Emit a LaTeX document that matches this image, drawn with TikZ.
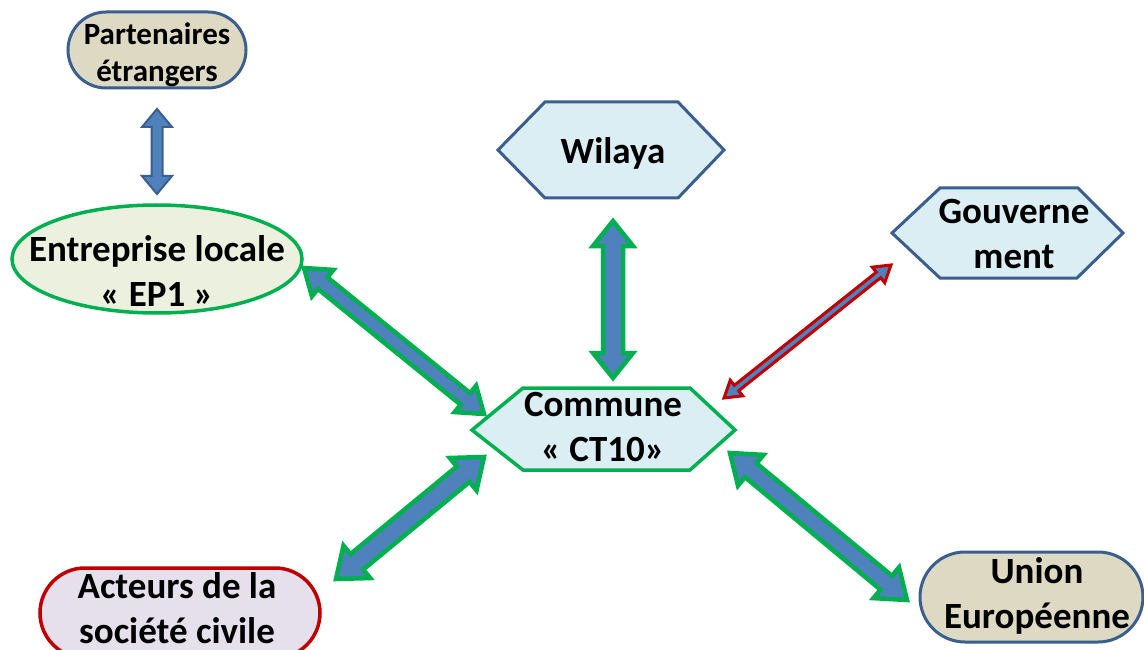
\documentclass[tikz,border=0pt]{standalone}
\usepackage{fontspec}
\setmainfont{Carlito}
\usetikzlibrary{calc}
\definecolor{bluebd}{HTML}{3A5F8F}
\definecolor{bluefill}{HTML}{4F81BD}
\definecolor{grn}{HTML}{00B050}
\definecolor{redbd}{HTML}{C00000}
\definecolor{tanfill}{HTML}{DDD9C3}
\definecolor{ltblue}{HTML}{DBEEF4}
\definecolor{ltgreen}{HTML}{EBF1DE}
\definecolor{ltpurple}{HTML}{E6E0EC}
\newcommand\dblarr[6]{%
  \coordinate (da1) at ($(#2)!#6!(#3)$);
  \coordinate (da2) at ($(#3)!#6!(#2)$);
  \draw[#1] (#2) -- ($(da1)!#5!90:(#3)$) -- ($(da1)!#4!90:(#3)$) -- ($(da2)!#4!-90:(#2)$) -- ($(da2)!#5!-90:(#2)$) -- (#3) -- ($(da2)!#5!90:(#2)$) -- ($(da2)!#4!90:(#2)$) -- ($(da1)!#4!-90:(#3)$) -- ($(da1)!#5!-90:(#3)$) -- cycle;}
\begin{document}
\begin{tikzpicture}[x=1pt,y=-1pt,
  lbl/.style={align=center,anchor=base,inner sep=0pt,font=\fontsize{37}{45}\selectfont\bfseries},
  lblsmall/.style={lbl,font=\fontsize{31}{37}\selectfont\bfseries},
  tanbox/.style={fill=tanfill,draw=bluebd,line width=3pt},
  hexblue/.style={fill=ltblue,draw=bluebd,line width=3pt,line join=miter},
  hexgreen/.style={fill=ltblue,draw=grn,line width=3.5pt,line join=miter},
  arrb/.style={fill=bluefill,draw=bluebd,line width=2pt,line join=miter},
  arrg/.style={fill=bluefill,draw=grn,line width=4.5pt,line join=miter},
  arrr/.style={fill=bluefill,draw=redbd,line width=3pt,line join=miter}]
\clip (0,0) rectangle (1144,650);
\fill[white] (0,0) rectangle (1144,650);
% shapes
\draw[tanbox,rounded corners=38pt] (68,12) rectangle (246,88);
\draw[hexblue] (498,150) -- (545,102) -- (678,102) -- (724,150) -- (678,198) -- (545,198) -- cycle;
\draw[fill=ltgreen,draw=grn,line width=3.5pt] (157,259) ellipse [x radius=145, y radius=54];
\draw[hexblue] (892,233) -- (940,188) -- (1078,188) -- (1123,233) -- (1077,278) -- (940,278) -- cycle;
\draw[hexgreen] (472,430) -- (523,388) -- (690,388) -- (735,430) -- (690,470) -- (523,470) -- cycle;
\draw[fill=ltpurple,draw=redbd,line width=3.5pt,rounded corners=45pt] (40,568) rectangle (320,658);
\draw[tanbox,rounded corners=45pt] (920,552) rectangle (1143,642);
% text nodes (base = baseline of last line)
\node[lblsmall] (pe) at (157,82) {Partenaires\\étrangers};
\node[lbl] (wl) at (613,164) {Wilaya};
\node[lbl] (ep) at (157,306) {Entreprise locale\\« EP1 »};
\node[lbl] (gv) at (1014,268) {Gouverne\\ment};
\node[lbl] (cm) at (603,461) {Commune\\« CT10»};
\node[lbl] (ac) at (177,643) {Acteurs de la\\société civile};
\node[lbl] (ue) at (1037,628) {Union\\Européenne};
% connector ends
\coordinate (peA) at (157,109);
\coordinate (peB) at (157,194);
\coordinate (wlA) at (613,221);
\coordinate (wlB) at (613,378);
\coordinate (epA) at (304,268);
\coordinate (epB) at (484,414);
\coordinate (gvA) at (891,265);
\coordinate (gvB) at (724,398);
\coordinate (acA) at (336,579);
\coordinate (acB) at (484,457);
\coordinate (ueA) at (730,453);
\coordinate (ueB) at (907,600);
% connectors
\dblarr{arrb}{peA}{peB}{5.5pt}{15pt}{18pt}
\dblarr{arrg}{wlA}{wlB}{10pt}{20pt}{25pt}
\dblarr{arrg}{epA}{epB}{7.5pt}{17pt}{24pt}
\dblarr{arrr}{gvA}{gvB}{3.5pt}{10pt}{16pt}
\dblarr{arrg}{acA}{acB}{10pt}{21pt}{27pt}
\dblarr{arrg}{ueA}{ueB}{9pt}{20pt}{27pt}
\end{tikzpicture}
\end{document}
